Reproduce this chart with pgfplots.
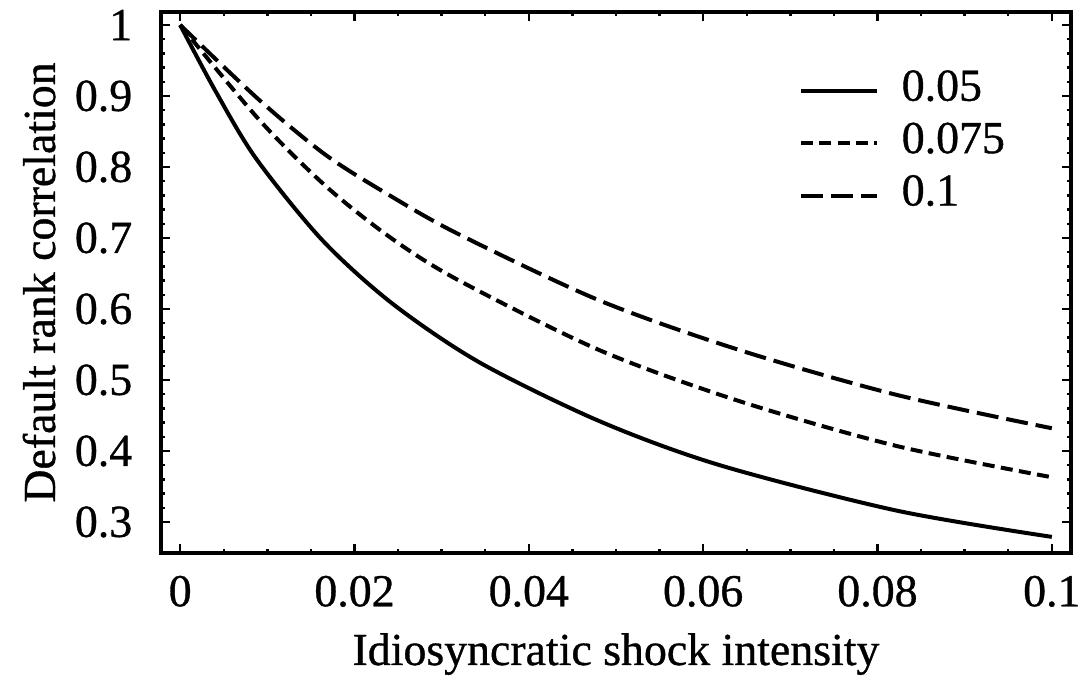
\documentclass[border=0pt]{standalone}
\usepackage{fontspec}
\setmainfont{Liberation Serif}[FakeBold=0.8]
\usepackage{pgfplots}
\pgfplotsset{compat=1.18}
\begin{document}
\fontsize{11.5}{13.8}\selectfont
\begin{tikzpicture}
\useasboundingbox (-40.25bp,-32bp) rectangle (230bp,138.25bp);
\begin{axis}[
  at={(0,0)}, anchor=south west,
  scale only axis, width=227.5bp, height=135.25bp,
  xmin=-0.0022, xmax=0.1022, ymin=0.2563, ymax=1.0183,
  axis line style={line width=0.9bp},
  xtick={0,0.02,0.04,0.06,0.08,0.1},
  xticklabels={0,0.02,0.04,0.06,0.08,0.1},
  ytick={0.3,0.4,0.5,0.6,0.7,0.8,0.9,1},
  yticklabels={0.3,0.4,0.5,0.6,0.7,0.8,0.9,1},
  minor x tick num=3, minor y tick num=4,
  tick align=inside,
  major tick length=2.2bp, minor tick length=1.1bp,
  every tick/.style={line width=0.6bp, black},
  yticklabel style={inner sep=0pt, xshift=-7bp},
  xticklabel style={inner sep=0pt, yshift=-5.5bp},
  xlabel={Idiosyncratic shock intensity},
  ylabel={Default rank correlation},
  xlabel style={at={(axis description cs:0.5,-0.207)}, anchor=base, inner sep=0pt},
  ylabel style={at={(axis description cs:-0.1165,0.5)}, anchor=base, inner sep=0pt},
  legend style={draw=none, fill=none, at={(0.700,0.904)}, anchor=north west,
    inner sep=0pt, column sep=5.75bp, row sep=0pt,
    nodes={inner sep=0pt, text height=9bp, text depth=4.1bp}},
  legend cell align=left,
  legend image code/.code={\draw[#1] (0bp,0bp) -- (19bp,0bp);},
]
\addplot[black, line width=1bp, smooth] coordinates {
(0,1) (0.0040,0.908) (0.0087,0.812) (0.0163,0.697) (0.0243,0.608) (0.0343,0.525)
(0.0481,0.442) (0.0619,0.380) (0.0822,0.316) (0.1,0.279)};
\addlegendentry{0.05}
\addplot[black, line width=1bp, smooth, dash pattern=on 3bp off 1.6bp] coordinates {
(0,1) (0.0091,0.866) (0.0168,0.772) (0.0243,0.699) (0.0320,0.640)
(0.0481,0.542) (0.0642,0.470) (0.0822,0.407) (0.1,0.363)};
\addlegendentry{0.075}
\addplot[black, line width=1bp, smooth, dash pattern=on 5.5bp off 2bp] coordinates {
(0,1) (0.0091,0.894) (0.0168,0.816) (0.0243,0.758) (0.0320,0.705)
(0.0481,0.612) (0.0642,0.542) (0.0822,0.479) (0.1,0.432)};
\addlegendentry{0.1}
\end{axis}
\end{tikzpicture}
\end{document}
